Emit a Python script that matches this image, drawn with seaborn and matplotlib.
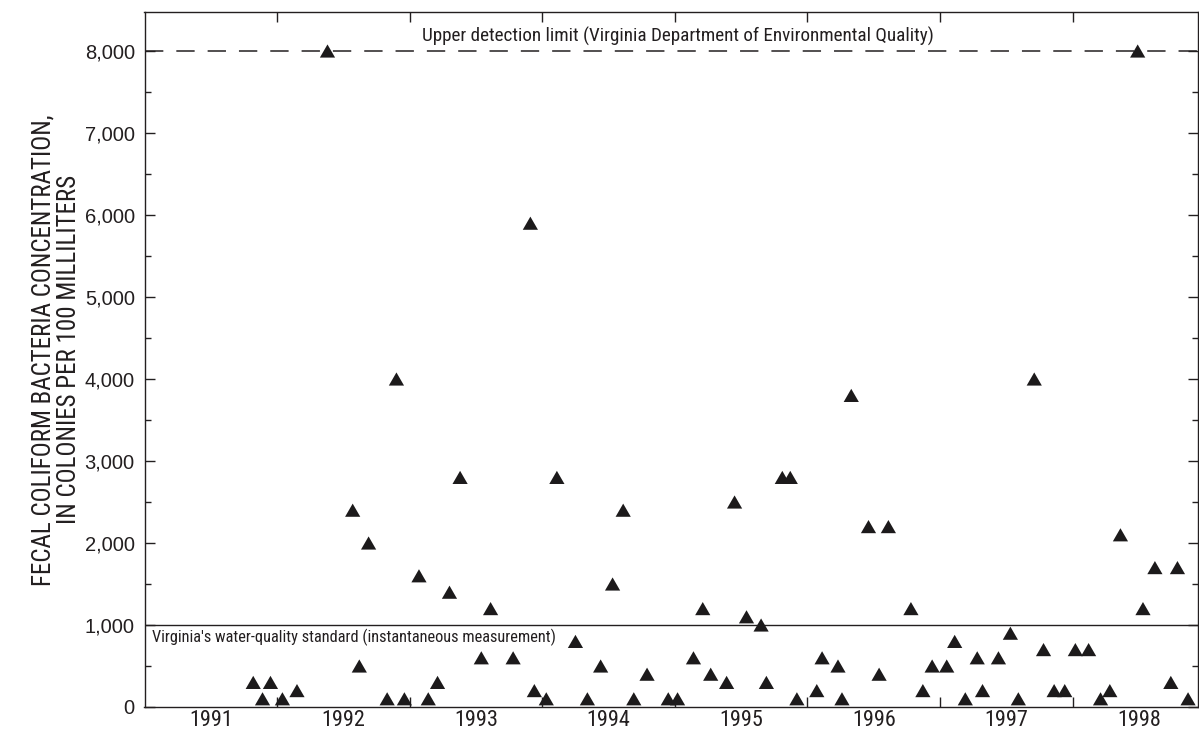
import matplotlib
matplotlib.use("Agg")
import matplotlib.pyplot as plt
import matplotlib.markers as mmarkers
from matplotlib.ticker import FixedLocator, FuncFormatter, NullFormatter
import seaborn as sns
import pandas as pd

# ---- data (decimal year of sample, fecal coliform colonies per 100 mL) ----
sample_year = [
    1991.82, 1991.89, 1991.95, 1992.04, 1992.15, 1992.38, 1992.57, 1992.62,
    1992.69, 1992.83, 1992.90, 1992.96, 1993.07, 1993.14, 1993.21, 1993.30,
    1993.38, 1993.54, 1993.61, 1993.78, 1993.91, 1993.94, 1994.03, 1994.11,
    1994.25, 1994.34, 1994.44, 1994.53, 1994.61, 1994.69, 1994.79, 1994.95,
    1995.02, 1995.14, 1995.21, 1995.27, 1995.39, 1995.45, 1995.54, 1995.65,
    1995.69, 1995.81, 1995.87, 1995.92, 1996.07, 1996.11, 1996.23, 1996.26,
    1996.33, 1996.46, 1996.54, 1996.61, 1996.78, 1996.87, 1996.94, 1997.05,
    1997.11, 1997.19, 1997.28, 1997.32, 1997.44, 1997.53, 1997.59, 1997.71,
    1997.78, 1997.86, 1997.94, 1998.02, 1998.12, 1998.21, 1998.28, 1998.36,
    1998.49, 1998.53, 1998.62, 1998.74, 1998.79, 1998.87,
]
concentration = [
    300, 100, 300, 100, 200, 8000, 2400, 500,
    2000, 100, 4000, 100, 1600, 100, 300, 1400,
    2800, 600, 1200, 600, 5900, 200, 100, 2800,
    800, 100, 500, 1500, 2400, 100, 400, 100,
    100, 600, 1200, 400, 300, 2500, 1100, 1000,
    300, 2800, 2800, 100, 200, 600, 500, 100,
    3800, 2200, 400, 2200, 1200, 200, 500, 500,
    800, 100, 600, 200, 600, 900, 100, 4000,
    700, 200, 200, 700, 700, 100, 200, 2100,
    8000, 1200, 1700, 300, 1700, 100,
]
year_labels = ["1991", "1992", "1993", "1994", "1995", "1996", "1997", "1998"]
upper_limit = 8000
standard = 1000
upper_text = "Upper detection limit (Virginia Department of Environmental Quality)"
standard_text = "Virginia's water-quality standard (instantaneous measurement)"
ylabel_lines = ["FECAL COLIFORM BACTERIA CONCENTRATION,", "IN COLONIES PER 100 MILLILITERS"]

df = pd.DataFrame({"year": sample_year, "conc": concentration})

sns.set_style("ticks")
NARROW = ["Roboto Condensed", "PT Sans Narrow", "DejaVu Sans"]
REG = ["Liberation Sans", "Arimo", "DejaVu Sans"]
plt.rcParams["font.family"] = NARROW
INK = "#231f20"

W, H = 1199, 734
fig = plt.figure(figsize=(W / 100, H / 100), dpi=100)
left_px, right_px, top_px, bot_px = 144.5, 1198, 12, 707
ax = fig.add_axes([left_px / W, (H - bot_px) / H, (right_px - left_px) / W, (bot_px - top_px) / H])

tri = mmarkers.MarkerStyle([(-1, -0.866), (1, -0.866), (0, 0.866), (-1, -0.866)])
sns.scatterplot(data=df, x="year", y="conc", ax=ax, marker=tri, s=120,
                color="#1c1a1b", edgecolor="none", linewidth=0, legend=False, zorder=3)

ax.axhline(upper_limit, color=INK, lw=1.1, linestyle=(0, (12, 8.5)), zorder=2)
ax.axhline(standard, color=INK, lw=1.0, zorder=2)

px_per_year = 132.6
x0 = int(year_labels[0])
ax.set_xlim(x0, x0 + (right_px - left_px) / px_per_year)
ax.set_ylim(0, (bot_px - top_px) / 82 * 1000)

ax.text(x0 + (678 - left_px) / px_per_year, 8180, upper_text, ha="center", va="center",
        fontsize=13.8, family=NARROW, color=INK)
ax.text(x0 + (152 - left_px) / px_per_year, 845, standard_text, ha="left", va="center",
        fontsize=11.8, family=NARROW, color=INK)

years_int = [int(y) for y in year_labels]
ax.xaxis.set_major_locator(FixedLocator(years_int[1:]))
ax.xaxis.set_major_formatter(NullFormatter())
ax.xaxis.set_minor_locator(FixedLocator([y + 0.5 for y in years_int]))
ax.xaxis.set_minor_formatter(FuncFormatter(lambda v, p: year_labels[int(v - 0.5) - years_int[0]]))
ax.yaxis.set_major_locator(FixedLocator(range(0, 9000, 1000)))
ax.yaxis.set_minor_locator(FixedLocator(range(500, 8500, 1000)))
ax.yaxis.set_major_formatter(FuncFormatter(lambda v, p: f"{int(v):,}"))

ax.tick_params(axis="x", which="major", direction="in", length=7.5, width=1.0,
               top=True, bottom=True, color=INK)
ax.tick_params(axis="x", which="minor", length=0, pad=2, labelsize=16, labelcolor=INK)
ax.tick_params(axis="y", which="major", direction="in", length=7.5, width=1.0,
               left=True, right=True, labelsize=14.5, pad=7, color=INK, labelcolor=INK)
ax.tick_params(axis="y", which="minor", direction="in", length=4.5, width=1.0,
               left=True, right=True, color=INK)
for lab in ax.get_yticklabels():
    lab.set_family(REG)
for lab in ax.xaxis.get_minorticklabels():
    lab.set_family(NARROW)

for sp in ax.spines.values():
    sp.set_visible(True)
    sp.set_linewidth(1.0)
    sp.set_color(INK)
ax.set_xlabel("")
ax.set_ylabel("")

fig.text(44 / W, 1 - 350 / H, ylabel_lines[0], rotation=90, ha="center", va="center",
         fontsize=18, family=NARROW, color=INK)
fig.text(69 / W, 1 - 349 / H, ylabel_lines[1], rotation=90, ha="center", va="center",
         fontsize=18, family=NARROW, color=INK)

fig.savefig("out.png", dpi=100, facecolor="white")
